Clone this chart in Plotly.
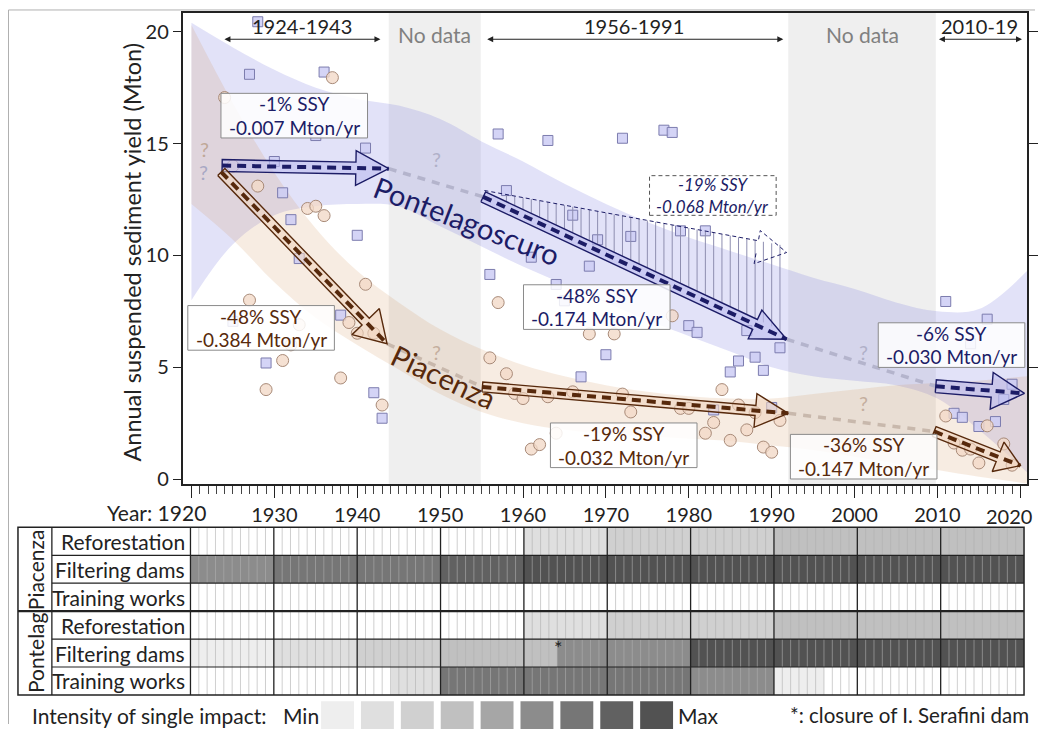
import math
import plotly.graph_objects as go

VW, VH = 1046, 738               # browser window
OFF = 8.0                        # default body margin of the html page (px)
W, H = VW - 2 * OFF, VH - 2 * OFF
FONT = "Lato"
NAVY = "#1c1c66"
BROWN = "#57290c"

# ---------------- data ----------------
pont_years = [1925, 1927, 1928, 1929, 1930, 1931, 1932, 1933, 1935, 1936, 1938, 1940, 1941, 1942, 1943,
              1956, 1957, 1958, 1961, 1963, 1964, 1965, 1966, 1967, 1968, 1969, 1970, 1972, 1973, 1977,
              1978, 1979, 1980, 1981, 1982, 1983, 1985, 1986, 1987, 1988, 1989, 1990, 1991,
              2011, 2012, 2013, 2014, 2015, 2016, 2017, 2018, 2019]
pont_ssy = [7.05, 18.1, 20.45, 5.19, 14.2, 12.8, 11.6, 9.86, 15.36, 18.2, 7.33, 10.9, 14.8, 3.86, 2.72,
            9.15, 15.43, 12.9, 9.92, 15.14, 8.7, 7.97, 11.8, 4.57, 9.52, 10.7, 5.56, 15.24, 10.85, 15.6,
            15.5, 11.1, 6.86, 6.56, 11.1, 3.09, 4.79, 5.28, 6.64, 5.45, 4.86, 3.2, 5.87,
            7.94, 2.94, 2.76, 6.05, 2.35, 7.15, 2.57, 3.56, 4.24]

pia_years = [1924, 1925, 1927, 1928, 1929, 1931, 1932, 1933, 1934, 1935, 1936, 1937, 1938, 1939, 1940,
             1941, 1942, 1943,
             1956, 1957, 1958, 1959, 1960, 1961, 1962, 1963, 1964, 1966, 1968, 1971, 1972, 1973, 1978,
             1979, 1980, 1982, 1983, 1984, 1985, 1986, 1987, 1988, 1989, 1990, 1991,
             2011, 2012, 2013, 2014, 2015, 2016, 2018, 2019]
pia_ssy = [17.06, 14.0, 8.0, 13.1, 4.0, 5.3, 6.0, 6.9, 12.1, 12.2, 11.78, 17.95, 4.52, 7.0, 6.52,
           8.71, 6.52, 3.31,
           5.42, 7.89, 4.71, 3.83, 3.6, 1.34, 1.54, 3.68, 2.05, 3.9, 6.49, 6.49, 3.8, 3.0, 7.3,
           3.16, 3.16, 2.05, 2.53, 4.0, 1.73, 3.31, 2.2, 2.97, 1.43, 1.2, 2.62,
           2.82, 1.61, 1.29, 1.34, 0.72, 2.38, 1.57, 0.62]

# confidence bands of the smoothed trends
band_years = [1920, 1925, 1930, 1935, 1940, 1945, 1950, 1955, 1960, 1965, 1970, 1975,
              1980, 1985, 1990, 1995, 2000, 2005, 2010, 2015, 2020.8]
pont_upper = [20.4, 19.3, 18.3, 17.5, 17.0, 16.7, 16.1, 15.1, 14.2, 13.2, 12.3, 11.5,
              10.8, 10.2, 9.6, 9.0, 8.5, 7.9, 7.5, 7.6, 9.3]
pont_lower = [8.0, 10.5, 11.8, 12.2, 12.3, 12.2, 11.3, 10.4, 9.5, 8.7, 7.9, 7.1,
              6.4, 5.7, 5.0, 4.6, 4.4, 4.2, 3.6, 2.2, 0.3]
pia_upper = [20.3, 16.8, 13.7, 11.2, 9.3, 7.9, 6.7, 5.8, 5.1, 4.6, 4.2, 3.9,
             3.7, 3.6, 3.6, 3.8, 4.0, 4.2, 4.3, 4.4, 4.6]
pia_lower = [12.3, 10.7, 8.8, 7.2, 6.0, 4.9, 3.8, 3.0, 2.5, 2.2, 2.0, 1.9,
             1.8, 1.7, 1.5, 1.3, 1.0, 0.7, 0.4, 0.1, -0.2]

# linear trends per period: start year, end year, start value, rate (Mton/yr)
pont_t0 = [1923.7, 1955.2, 2009.8]
pont_t1 = [1943.8, 1991.8, 2020.5]
pont_v0 = [14.02, 12.62, 4.15]
pont_rate = [-0.007, -0.174, -0.030]
pont_alt_rate = -0.068          # dashed alternative trend 1956-1991
pia_t0 = [1923.6, 1955.1, 2009.6]
pia_t1 = [1943.6, 1992.0, 2020.0]
pia_v0 = [13.73, 4.12, 2.13]
pia_rate = [-0.384, -0.032, -0.147]

pont_labels = [("-1% SSY", "-0.007 Mton/yr"), ("-48% SSY", "-0.174 Mton/yr"), ("-6% SSY", "-0.030 Mton/yr")]
pont_label_xy = [(1932.4, 16.25), (1968.9, 7.69), (2011.7, 5.99)]
pont_alt_label = ("-19% SSY", "-0.068 Mton/yr")
pont_alt_label_xy = (1982.9, 12.68)
pia_labels = [("-48% SSY", "-0.384 Mton/yr"), ("-19% SSY", "-0.032 Mton/yr"), ("-36% SSY", "-0.147 Mton/yr")]
pia_label_xy = [(1928.4, 6.76), (1972.15, 1.51), (2001.1, 1.0)]

periods = ["1924-1943", "1956-1991", "2010-19"]
period_span = [(1923.8, 1942.8), (1955.5, 1991.4), (2010.0, 2020.2)]
nodata_span = [(1943.8, 1954.9), (1992.0, 2009.8)]

decade_ticks = [1920, 1930, 1940, 1950, 1960, 1970, 1980, 1990, 2000, 2010, 2020]
y_ticks = [0, 5, 10, 15, 20]

# impact intensity table: (first year, level) change points, level 0 = none, 9 = max
row_names = ["Reforestation", "Filtering dams", "Training works"] * 2
groups = ["Piacenza", "Pontelag"]
impact_changes = [
    [(1920, 0), (1960, 2), (1970, 3), (1990, 4)],                       # Piacenza reforestation
    [(1920, 6), (1930, 7), (1950, 8), (1960, 9)],                       # Piacenza filtering dams
    [(1920, 0)],                                                        # Piacenza training works
    [(1920, 0), (1960, 2), (1970, 3), (1990, 4)],                       # Pontelag reforestation
    [(1920, 1), (1930, 2), (1940, 3), (1950, 4), (1964, 6), (1980, 9)], # Pontelag filtering dams
    [(1920, 0), (1944, 2), (1950, 7), (1980, 6), (1990, 1), (1996, 0)], # Pontelag training works
]
level_colors = ["#ffffff", "#eeeeee", "#dfdfdf", "#d0d0d0", "#c0c0c0", "#a6a6a6",
                "#8c8c8c", "#767676", "#616161", "#525252"]
table_years = list(range(1920, 2020))
serafini_year = 1964

# ---------------- geometry (screen px) ----------------
AX0, AXW = 184.0, 846.0          # main plot left / width
AY0, AY1 = 13.0, 488.0           # main plot top / bottom
AYH = AY1 - AY0
PXY = 8.313                      # px per year
PXV = 22.55                      # px per Mton
XR = [1920 - (192 - AX0) / PXY, 1920 - (192 - AX0) / PXY + AXW / PXY]
YR = [-(AY1 - 483) / PXV, -(AY1 - 483) / PXV + AYH / PXV]


def PX(x):
    return (x - OFF) / W


def PY(y):
    return 1 - (y - OFF) / H


def d2p(x, y):
    return (AX0 + (x - XR[0]) / (XR[1] - XR[0]) * AXW,
            AY1 - (y - YR[0]) / (YR[1] - YR[0]) * AYH)


def p2d(px, py):
    return (XR[0] + (px - AX0) / AXW * (XR[1] - XR[0]),
            YR[0] + (AY1 - py) / AYH * (YR[1] - YR[0]))


def arrow_pts(x0, y0, x1, y1, body, head, hlen, open_top=False):
    sx, sy = d2p(x0, y0)
    tx, ty = d2p(x1, y1)
    dx, dy = tx - sx, ty - sy
    L = math.hypot(dx, dy)
    ux, uy = dx / L, dy / L
    nx, ny = -uy, ux
    bx, by = tx - ux * hlen, ty - uy * hlen
    if open_top:
        pts = [(sx - nx * body, sy - ny * body), (bx - nx * body, by - ny * body),
               (bx - nx * head, by - ny * head), (tx, ty),
               (bx + nx * head, by + ny * head), (bx + nx * body, by + ny * body)]
    else:
        pts = [(sx + nx * body, sy + ny * body), (bx + nx * body, by + ny * body),
               (bx + nx * head, by + ny * head), (tx, ty),
               (bx - nx * head, by - ny * head), (bx - nx * body, by - ny * body),
               (sx - nx * body, sy - ny * body), (sx + nx * body, sy + ny * body)]
    d = [p2d(px, py) for px, py in pts]
    return [p[0] for p in d], [p[1] for p in d]


fig = go.Figure()

# confidence bands
fig.add_trace(go.Scatter(x=band_years, y=pont_upper, mode="lines", line=dict(width=0, shape="spline"),
                         hoverinfo="skip"))
fig.add_trace(go.Scatter(x=band_years, y=pont_lower, mode="lines", line=dict(width=0, shape="spline"),
                         fill="tonexty", fillcolor="rgba(110,110,220,0.2)", hoverinfo="skip"))
fig.add_trace(go.Scatter(x=band_years, y=pia_upper, mode="lines", line=dict(width=0, shape="spline"),
                         hoverinfo="skip"))
fig.add_trace(go.Scatter(x=band_years, y=pia_lower, mode="lines", line=dict(width=0, shape="spline"),
                         fill="tonexty", fillcolor="rgba(205,140,85,0.17)", hoverinfo="skip"))

# observations
fig.add_trace(go.Scatter(x=pont_years, y=pont_ssy, mode="markers",
                         marker=dict(symbol="square", size=10, color="rgba(205,205,245,0.85)",
                                     line=dict(color="#7c7cae", width=1))))
fig.add_trace(go.Scatter(x=pia_years, y=pia_ssy, mode="markers",
                         marker=dict(symbol="circle", size=12, color="rgba(242,218,200,0.8)",
                                     line=dict(color="#a88a78", width=1))))

# gray dashed connectors across the gaps
for t0, t1, v0, r, col in [(pont_t0, pont_t1, pont_v0, pont_rate, "#b4b4cc"),
                            (pia_t0, pia_t1, pia_v0, pia_rate, "#c8b8ac")]:
    for i in range(len(t0) - 1):
        ye = v0[i] + r[i] * (t1[i] - t0[i])
        fig.add_trace(go.Scatter(x=[t1[i], t0[i + 1]], y=[ye, v0[i + 1]], mode="lines",
                                 line=dict(color=col, width=3.5, dash="8px,7px"), hoverinfo="skip"))

# hatching between the alternative (-19%) and fitted (-48%) Pontelagoscuro trends
hx, hy = [], []
for yr in range(1958, 1992):
    ya = pont_v0[1] + pont_alt_rate * (yr - pont_t0[1])
    yb = pont_v0[1] + pont_rate[1] * (yr - pont_t0[1])
    _, pa = d2p(yr, ya)
    _, pb = d2p(yr, yb)
    top = p2d(0, pa - 6.5)[1]
    bot = p2d(0, pb - 6.0)[1]
    hx += [yr, yr, None]
    hy += [top, bot, None]
fig.add_trace(go.Scatter(x=hx, y=hy, mode="lines", line=dict(color="#8e8eb0", width=1), hoverinfo="skip"))

# alternative trend (dashed outline arrow)
ax_, ay_ = arrow_pts(pont_t0[1], pont_v0[1], pont_t1[1],
                     pont_v0[1] + pont_alt_rate * (pont_t1[1] - pont_t0[1]), 6.5, 17, 30, open_top=True)
fig.add_trace(go.Scatter(x=ax_, y=ay_, mode="lines", line=dict(color=NAVY, width=1, dash="4px,3px"),
                         hoverinfo="skip"))

# block arrows for fitted trends + dashed trend lines
arrow_dims_pont = [(6, 17.5, 33), (5.5, 16, 35), (6.5, 18.5, 33)]
arrow_dims_pia = [(5, 19, 31), (5, 17, 33), (5.3, 16, 24)]
for t0, t1, v0, r, dims, fillc, linec in [
        (pont_t0, pont_t1, pont_v0, pont_rate, arrow_dims_pont, "rgba(190,190,240,0.65)", NAVY),
        (pia_t0, pia_t1, pia_v0, pia_rate, arrow_dims_pia, "rgba(240,214,192,0.6)", BROWN)]:
    for i in range(len(t0)):
        ye = v0[i] + r[i] * (t1[i] - t0[i])
        xs, ys = arrow_pts(t0[i], v0[i], t1[i], ye, *dims[i])
        fig.add_trace(go.Scatter(x=xs, y=ys, mode="lines", fill="toself", fillcolor=fillc,
                                 line=dict(color=linec, width=1.4), hoverinfo="skip"))
        fig.add_trace(go.Scatter(x=[t0[i], t1[i]], y=[v0[i], ye], mode="lines",
                                 line=dict(color=linec, width=4, dash="9px,6px"), hoverinfo="skip"))

# ---------------- impact table (heatmap) ----------------
z = []
for ch in impact_changes:
    row = []
    for yr in table_years:
        lvl = 0
        for y0, l in ch:
            if yr >= y0:
                lvl = l
        row.append(lvl)
    z.append(row)
cs = []
n = len(level_colors)
for i, c in enumerate(level_colors):
    cs.append([i / n, c])
    cs.append([(i + 1) / n, c])
fig.add_trace(go.Heatmap(z=z, x=[y + 0.5 for y in table_years], y=list(range(6)), xaxis="x2", yaxis="y2",
                         colorscale=cs, zmin=-0.5, zmax=n - 0.5, showscale=False, hoverinfo="skip"))
sx, sy = [], []
for yr in table_years[1:]:
    if yr % 10:
        sx += [yr, yr, None]
        sy += [-0.5, 5.5, None]
fig.add_trace(go.Scatter(x=sx, y=sy, xaxis="x2", yaxis="y2", mode="lines",
                         line=dict(color="rgba(175,175,175,0.6)", width=1), hoverinfo="skip"))
dx_, dy_ = [], []
for yr in decade_ticks[1:-1]:
    dx_ += [yr, yr, None]
    dy_ += [-0.5, 5.5, None]
fig.add_trace(go.Scatter(x=dx_, y=dy_, xaxis="x2", yaxis="y2", mode="lines",
                         line=dict(color="#222", width=1.3), hoverinfo="skip"))

# ---------------- layout ----------------
TX0, TX1 = 191.0, 1027.0
TY0, TY1 = 531.7, 700.7
RH = (TY1 - TY0) / 6

# first and last decade labels are written separately (page edge / "Year:" prefix)
xtick_text = [""] + [str(t) for t in decade_ticks[1:-1]] + [""]

fig.update_layout(
    width=W, height=H, margin=dict(l=0, r=0, t=0, b=0),
    paper_bgcolor="white", plot_bgcolor="white", showlegend=False,
    font=dict(family=FONT, color="#222", size=19),
    xaxis=dict(domain=[PX(AX0), PX(AX0 + AXW)], range=XR, showgrid=False, zeroline=False,
               showline=True, linecolor="#222", linewidth=1.5, mirror=True,
               ticks="outside", ticklen=12, tickwidth=1.3, tickcolor="#222",
               tickmode="array", tickvals=decade_ticks, ticktext=xtick_text,
               tickfont=dict(size=20, color="#222"),
               minor=dict(tickmode="linear", tick0=1920, dtick=1, ticks="outside", ticklen=8,
                          tickwidth=1, tickcolor="#444", showgrid=False)),
    yaxis=dict(domain=[PY(AY1), PY(AY0)], range=YR, showgrid=False, zeroline=False,
               showline=True, linecolor="#222", linewidth=1.5, mirror="allticks",
               ticks="outside", ticklen=9, tickwidth=1.3, tickcolor="#222",
               tickvals=y_ticks, tickfont=dict(size=20, color="#222")),
    xaxis2=dict(domain=[PX(TX0), PX(TX1)], range=[1920, 2020], anchor="y2", visible=False),
    yaxis2=dict(domain=[PY(TY1), PY(TY0)], range=[5.5, -0.5], anchor="x2", visible=False),
)

shapes = []
ann = []


def txt(x, y, text, size, color="#222", xref="paper", yref="paper", xanchor="center", angle=0, **kw):
    d = dict(x=x, y=y, xref=xref, yref=yref, text=text, showarrow=False, xanchor=xanchor,
             yanchor="middle", textangle=angle, font=dict(size=size, color=color))
    d.update(kw)
    ann.append(d)


for a, b in nodata_span:
    shapes.append(dict(type="rect", xref="x", yref="y domain", x0=a, x1=b, y0=0, y1=1,
                       fillcolor="#efefef", line=dict(width=0), layer="below"))


def label_box(cx, cy, lines, color, w=147, h=45, size=19, dashed=False, italic=False):
    px, py = d2p(cx, cy)
    x0, y0 = p2d(px - w / 2, py + h / 2)
    x1, y1 = p2d(px + w / 2, py - h / 2)
    shapes.append(dict(type="rect", xref="x", yref="y", x0=x0, x1=x1, y0=y0, y1=y1, layer="above",
                       fillcolor="rgba(255,255,255,0.85)",
                       line=dict(color="#555" if dashed else "#8a8a8a", width=1,
                                 dash="4px,3px" if dashed else "solid")))
    off = h / 4 + 0.6
    for k, t in enumerate(lines):
        yy = p2d(px, py - off if k == 0 else py + off)[1]
        txt(cx, yy, "<i>%s</i>" % t if italic else t, size, color, xref="x", yref="y")


for t, (x, y) in zip(pont_labels, pont_label_xy):
    label_box(x, y, t, NAVY)
for t, (x, y) in zip(pia_labels, pia_label_xy):
    label_box(x, y, t, BROWN)
label_box(pont_alt_label_xy[0], pont_alt_label_xy[1], pont_alt_label, NAVY, w=127, h=40, size=17,
          dashed=True, italic=True)

# table frame
shapes.append(dict(type="rect", xref="paper", yref="paper", x0=PX(18), x1=PX(TX1), y0=PY(TY1), y1=PY(TY0),
                   line=dict(color="#222", width=1.5)))
for xv in [52, TX0]:
    shapes.append(dict(type="line", xref="paper", yref="paper", x0=PX(xv), x1=PX(xv), y0=PY(TY1), y1=PY(TY0),
                       line=dict(color="#222", width=1.3)))
for k in range(1, 6):
    yv = TY0 + k * RH
    shapes.append(dict(type="line", xref="paper", yref="paper", x0=PX(18 if k == 3 else 52), x1=PX(TX1),
                       y0=PY(yv), y1=PY(yv), line=dict(color="#222", width=2.2 if k == 3 else 1.2)))
# intensity legend keys
for i in range(1, n):
    x0 = 322 + (i - 1) * 40
    shapes.append(dict(type="rect", xref="paper", yref="paper", x0=PX(x0), x1=PX(x0 + 33),
                       y0=PY(735), y1=PY(707), fillcolor=level_colors[i], line=dict(width=0)))
# outer figure border (left / top)
shapes.append(dict(type="line", xref="paper", yref="paper", x0=PX(8.5), x1=PX(8.5), y0=0, y1=PY(10),
                   line=dict(color="#b0b0b0", width=1)))
shapes.append(dict(type="line", xref="paper", yref="paper", x0=PX(8.5), x1=1, y0=PY(10), y1=PY(10),
                   line=dict(color="#b0b0b0", width=1)))
fig.update_layout(shapes=shapes)

# period arrows and labels
arrow_y = p2d(0, 39.5)[1]
for lab, (a, b) in zip(periods, period_span):
    ann.append(dict(x=b, y=arrow_y, ax=a, ay=arrow_y, xref="x", yref="y", axref="x", ayref="y",
                    text="", showarrow=True, arrowhead=2, arrowsize=1, arrowwidth=1.2,
                    arrowcolor="#222", arrowside="end+start"))
    txt((a + b) / 2, PY(26), lab, 20, xref="x")
for a, b in nodata_span:
    txt((a + b) / 2, PY(35), "No data", 21, "#808080", xref="x")

# station names along their bands
txt(PX(468), PY(222), "Pontelagoscuro", 29, NAVY, angle=21)
txt(PX(445), PY(380), "Piacenza", 29, BROWN, angle=25)

# question marks in the gaps
for (x, y, c) in [(1921.6, 14.75, "#bfa898"), (1921.5, 13.75, "#a8a8c4"), (1949.6, 14.3, "#b0b0c8"),
                  (1949.6, 5.7, "#c4ae9e"), (2001.1, 5.7, "#b0b0c8"), (2001.1, 3.4, "#c4ae9e")]:
    txt(x, y, "?", 20, c, xref="x", yref="y")

# axis texts
txt(PX(132), PY(254), "Annual suspended sediment yield (Mton)", 23.5, angle=-90)
txt(PX(209), PY(517), "Year: %d" % decade_ticks[0], 21, xanchor="right")
txt(PX(1037), PY(520), str(decade_ticks[-1]), 20, xanchor="right")

# table labels
for k, name in enumerate(row_names):
    txt(PX(188), PY(TY0 + (k + 0.5) * RH), name, 21, xanchor="right")
for g, name in enumerate(groups):
    txt(PX(35), PY(TY0 + (g * 3 + 1.5) * RH), name, 21, angle=-90)
txt(serafini_year + 0.1, 4, "*", 20, xref="x2", yref="y2", yshift=6)

# intensity legend text
txt(PX(30), PY(721), "Intensity of single impact:", 21, xanchor="left")
txt(PX(302), PY(721), "Min", 21)
txt(PX(701), PY(721), "Max", 21)
txt(PX(790), PY(721), "*: closure of I. Serafini dam", 20.5, xanchor="left")

fig.update_layout(annotations=ann)
fig.write_html("out.html")
